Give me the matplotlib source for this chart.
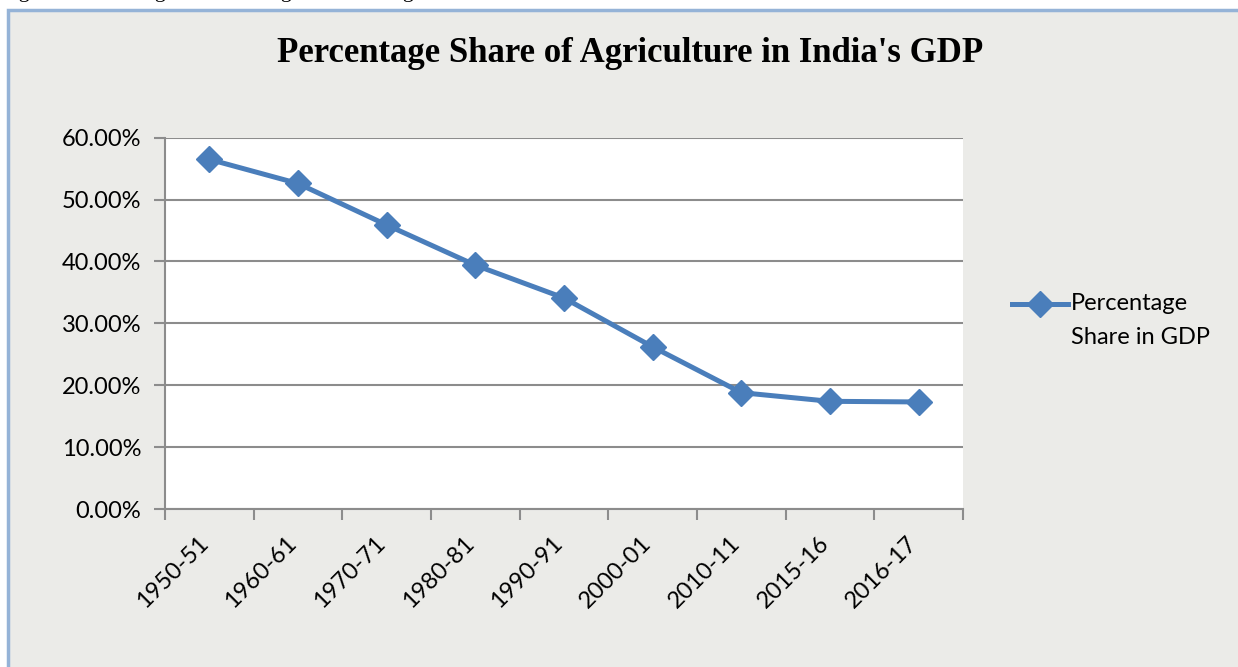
import matplotlib
matplotlib.use("Agg")
import matplotlib.pyplot as plt
import matplotlib.transforms as mtransforms
from matplotlib.patches import Rectangle
from matplotlib.lines import Line2D
from matplotlib.ticker import FuncFormatter, FixedLocator

# data
years = ["1950-51", "1960-61", "1970-71", "1980-81", "1990-91",
         "2000-01", "2010-11", "2015-16", "2016-17"]
share = [56.5, 52.6, 45.9, 39.4, 34.1, 26.2, 18.8, 17.4, 17.3]
y_ticks = [0, 10, 20, 30, 40, 50, 60]

W, H = 1238, 667
blue = "#4a7ebb"
grid_gray = "#8c8c8c"
tick_font = ["Lato", "DejaVu Sans"]
fs = 17

fig = plt.figure(figsize=(W / 100, H / 100), dpi=100, facecolor="white")

# textured-looking panel with the light blue frame (top and left visible)
panel = Rectangle((8 / W, -0.05), 1.1, (H - 10) / H + 0.05,
                  transform=fig.transFigure, facecolor="#ebebe8",
                  edgecolor="#95b3d7", linewidth=2.5, zorder=-10)
fig.patches.append(panel)

# caption of the source page, cut off at the very top of the picture
fig.text(0.0, 1 + 3 / H, "Figure 1: Showing the Percentage Share of Agriculture in GDP",
         fontsize=16, family="Liberation Serif", va="baseline", ha="left")

ax = fig.add_axes([165 / W, (H - 509) / H, (963 - 165) / W, (509 - 137.7) / H])
ax.set_facecolor("white")

x = list(range(len(years)))
ax.plot(x, share, color=blue, lw=3.6, marker="D", ms=13,
        markeredgecolor=blue, markerfacecolor=blue, zorder=3)

ax.set_xlim(-0.5, len(years) - 0.5)
ax.set_ylim(0, 60)
ax.yaxis.set_major_locator(FixedLocator(y_ticks))
ax.yaxis.set_major_formatter(FuncFormatter(lambda v, p: "%.2f%%" % v))
ax.grid(axis="y", color=grid_gray, lw=1.5, zorder=1)

ax.set_xticks(x)
ax.set_xticklabels(years, rotation=45, ha="right", rotation_mode="anchor",
                   fontsize=fs, family=tick_font)
ax.set_xticks([i - 0.5 for i in range(len(years) + 1)], minor=True)
ax.tick_params(axis="x", which="major", length=0, pad=17)
ax.tick_params(axis="x", which="minor", length=8, color=grid_gray, width=1.5)
ax.tick_params(axis="y", length=8, color=grid_gray, width=1.5, pad=9)
for lab in ax.get_yticklabels():
    lab.set_fontsize(fs)
    lab.set_family(tick_font)

shift = mtransforms.ScaledTranslation(-12 / 100, 0, fig.dpi_scale_trans)
for lab in ax.get_xticklabels():
    lab.set_transform(lab.get_transform() + shift)

for s in ["top", "right"]:
    ax.spines[s].set_visible(False)
for s in ["left", "bottom"]:
    ax.spines[s].set_color(grid_gray)
    ax.spines[s].set_linewidth(1.5)

fig.text(630 / W, 1 - 53 / H, "Percentage Share of Agriculture in India's GDP",
         fontsize=25, fontweight="bold", family="Liberation Serif",
         ha="center", va="center")

# legend drawn by hand so the marker lines up with the first text line
ly = 1 - 304 / H
fig.add_artist(Line2D([1012 / W, 1068 / W], [ly, ly], transform=fig.transFigure,
                      color=blue, lw=3.6))
fig.add_artist(Line2D([1040 / W], [ly], transform=fig.transFigure,
                      color=blue, marker="D", ms=13))
fig.text(1071 / W, ly, "Percentage", fontsize=fs, family=tick_font,
         ha="left", va="center")
fig.text(1071 / W, 1 - 338 / H, "Share in GDP", fontsize=fs, family=tick_font,
         ha="left", va="center")

fig.savefig("out.png", dpi=100, facecolor="white")
